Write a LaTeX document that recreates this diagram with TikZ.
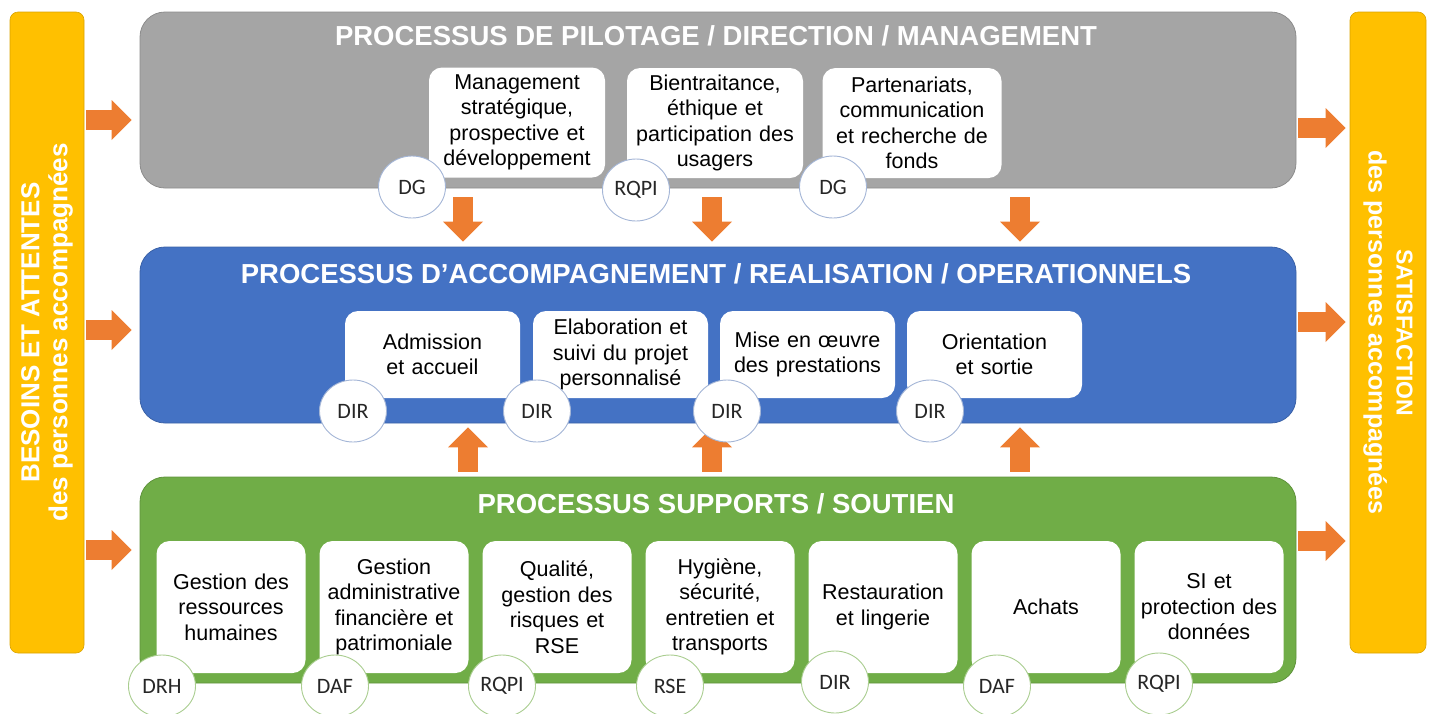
\documentclass[tikz,border=0pt]{standalone}
\usepackage{fontspec}
\setmainfont{Liberation Sans}
\newfontfamily\calibri{Carlito}
\usetikzlibrary{arrows.meta,shapes.geometric}

\definecolor{pilotgray}{HTML}{A5A5A5}
\definecolor{accblue}{HTML}{4472C4}
\definecolor{suppgreen}{HTML}{70AD47}
\definecolor{sideyellow}{HTML}{FFC000}
\definecolor{floworange}{HTML}{ED7D31}
\definecolor{ringblue}{HTML}{A3B5D6}
\definecolor{ringgreen}{HTML}{A9CD8F}

\tikzset{
  bigbox/.style={rounded corners=25pt, minimum width=1156pt, inner sep=0pt, line width=0.8pt},
  sidebar/.style={fill=sideyellow, draw=sideyellow!85!black, line width=0.6pt, rounded corners=8pt, minimum height=641pt, inner sep=0pt},
  sidetext/.style={text=white, align=center, inner sep=0pt, font=\bfseries\fontsize{26}{28}\selectfont},
  headline/.style={text=white, inner sep=0pt, font=\bfseries\fontsize{27.5}{30}\selectfont},
  task/.style={fill=white, rounded corners=13pt, align=center, inner sep=0pt, font=\fontsize{21.5}{25.5}\selectfont},
  pilottask/.style={task, minimum width=176pt, minimum height=110pt, text width=172pt},
  acctask/.style={task, minimum width=175pt, minimum height=87pt, text width=172pt},
  supptask/.style={task, minimum width=149pt, minimum height=132pt, text width=146pt},
  owner/.style={ellipse, fill=white, draw=ringblue, line width=0.9pt, minimum width=67pt, minimum height=62pt, inner sep=0pt, text=black!85, font=\calibri\fontsize{22}{24}\selectfont},
  flow/.style={draw=floworange, line width=20pt, -{Triangle[width=40pt, length=20pt, line width=0pt]}}
}

\begin{document}
\begin{tikzpicture}[x=1pt, y=-1pt]
\useasboundingbox (0, 0) rectangle (1433, 713);

% side bars
\node at (47, 332.5) [sidebar, minimum width=74pt] (needs) {};
\node at (47, 332.5) [sidetext, rotate=90] (needstxt) {BESOINS ET ATTENTES\\des personnes accompagnées};
\node at (1388, 332.5) [sidebar, minimum width=76pt] (satis) {};
\node at (1388, 332.5) [sidetext, rotate=-90] (satistxt) {{\fontsize{23}{28}\selectfont SATISFACTION}\\{\fontsize{25}{28}\selectfont des personnes accompagnées}};

% process bands
\node at (718, 100) [bigbox, fill=pilotgray, draw=pilotgray!85!black, minimum height=176pt] (pilot) {};
\node at (718, 335) [bigbox, fill=accblue, draw=accblue!85!black, minimum height=176pt] (accomp) {};
\node at (718, 580) [bigbox, fill=suppgreen, draw=suppgreen!85!black, minimum height=206pt] (support) {};

\node at (716, 36) [headline] (pilottitle) {PROCESSUS DE PILOTAGE / DIRECTION / MANAGEMENT};
\node at (716, 273.5) [headline] (acctitle) {PROCESSUS D’ACCOMPAGNEMENT / REALISATION / OPERATIONNELS};
\node at (716, 503.5) [headline] (supptitle) {PROCESSUS SUPPORTS / SOUTIEN};

% pilotage
\node at (517, 122.5) [pilottask] (strat) {Management\\stratégique,\\prospective et\\développement};
\node at (715, 123) [pilottask] (ethic) {Bientraitance,\\éthique et\\participation des\\usagers};
\node at (912, 123) [pilottask, minimum width=179pt] (partner) {Partenariats,\\communication\\et recherche de\\fonds};

% accompagnement
\node at (432.5, 354.5) [acctask] (admit) {Admission\\et accueil};
\node at (620.5, 354.5) [acctask] (project) {Elaboration et\\suivi du projet\\personnalisé};
\node at (807.5, 354.5) [acctask] (deliver) {Mise en œuvre\\des prestations};
\node at (994.5, 354.5) [acctask] (exit) {Orientation\\et sortie};

% supports
\node at (231, 607) [supptask] (hr) {Gestion des\\ressources\\humaines};
\node at (394, 607) [supptask] (admin) {Gestion\\administrative\\financière et\\patrimoniale};
\node at (557, 607) [supptask] (quality) {Qualité,\\gestion des\\risques et\\RSE};
\node at (720, 607) [supptask] (hygiene) {Hygiène,\\sécurité,\\entretien et\\transports};
\node at (883, 607) [supptask] (food) {Restauration\\et lingerie};
\node at (1046, 607) [supptask] (buy) {Achats};
\node at (1209, 607) [supptask] (data) {SI et\\protection des\\données};

% flows
\draw [flow, shorten <=2pt, shorten >=8pt] (needs.east |- 0,120) to (pilot.west |- 0,120);
\draw [flow, shorten <=2pt, shorten >=8pt] (needs.east |- 0,330) to (accomp.west |- 0,330);
\draw [flow, shorten <=2pt, shorten >=8pt] (needs.east |- 0,550) to (support.west |- 0,550);
\draw [flow, shorten <=2pt, shorten >=4pt] (pilot.east |- 0,128) to (satis.west |- 0,128);
\draw [flow, shorten <=2pt, shorten >=4pt] (accomp.east |- 0,322) to (satis.west |- 0,322);
\draw [flow, shorten <=2pt, shorten >=4pt] (support.east |- 0,541) to (satis.west |- 0,541);
\draw [flow, shorten <=9pt, shorten >=5pt] (pilot.south -| 463,0) to (accomp.north -| 463,0);
\draw [flow, shorten <=9pt, shorten >=5pt] (pilot.south -| 712,0) to (accomp.north -| 712,0);
\draw [flow, shorten <=9pt, shorten >=5pt] (pilot.south -| 1020,0) to (accomp.north -| 1020,0);
\draw [flow, shorten <=5pt, shorten >=4pt] (support.north -| 468,0) to (accomp.south -| 468,0);
\draw [flow, shorten <=5pt, shorten >=4pt] (support.north -| 712,0) to (accomp.south -| 712,0);
\draw [flow, shorten <=5pt, shorten >=4pt] (support.north -| 1020,0) to (accomp.south -| 1020,0);

% owners
\node at (412, 187) [owner] (dg1) {DG};
\node at (636, 190) [owner] (rqpi1) {RQPI};
\node at (833, 187) [owner] (dg2) {DG};
\node at (353, 411) [owner] (dir1) {DIR};
\node at (537, 411) [owner] (dir2) {DIR};
\node at (727, 411) [owner] (dir3) {DIR};
\node at (930, 411) [owner] (dir4) {DIR};
\node at (162, 686) [owner, draw=ringgreen] (drh) {DRH};
\node at (335, 686) [owner, draw=ringgreen] (daf1) {DAF};
\node at (502, 686) [owner, draw=ringgreen] (rqpi2) {RQPI};
\node at (670, 686) [owner, draw=ringgreen] (rse) {RSE};
\node at (835, 682) [owner, draw=ringgreen] (dir5) {DIR};
\node at (997, 686) [owner, draw=ringgreen] (daf2) {DAF};
\node at (1159, 684) [owner, draw=ringgreen] (rqpi3) {RQPI};
\end{tikzpicture}
\end{document}
